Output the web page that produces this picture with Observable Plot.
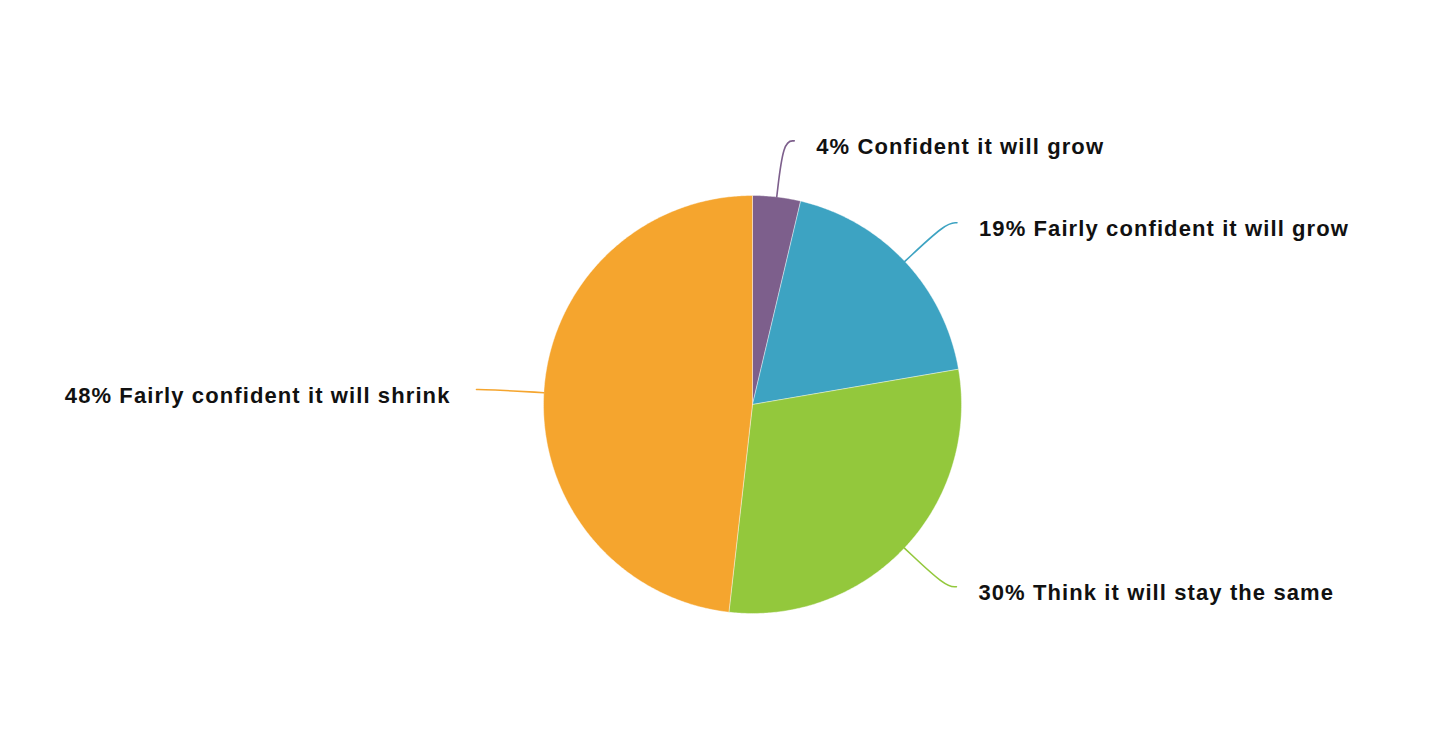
<!DOCTYPE html>
<html><head><meta charset="utf-8">
<script src="https://cdn.jsdelivr.net/npm/d3@7"></script>
<script src="https://cdn.jsdelivr.net/npm/@observablehq/plot@0.6"></script>
<style>body{margin:0;background:#fff}</style>
</head><body><div id="chart"></div>
<script>
const categories = ["Confident it will grow", "Fairly confident it will grow", "Think it will stay the same", "Fairly confident it will shrink"];
const values = [3.7, 18.6, 29.5, 48.2];
const colors = ["#7d5f8c", "#3da3c2", "#93c83c", "#f5a52e"];

// layout constants (pixels)
const W = 1436, H = 736, R = 209, CX = 752, CY = 404;
const u = p => p / R;

const total = d3.sum(values);
let acc = 0;
const slices = categories.map((c, i) => {
  const a0 = acc / total * 2 * Math.PI;
  acc += values[i];
  const a1 = acc / total * 2 * Math.PI;
  return {label: c, value: values[i], a0, a1, mid: (a0 + a1) / 2};
});

// slice polygons in unit-radius coordinates (angle clockwise from top)
const wedgePts = [];
for (const s of slices) {
  wedgePts.push({label: s.label, x: 0, y: 0});
  const n = Math.max(2, Math.ceil((s.a1 - s.a0) / (Math.PI / 360)));
  for (let k = 0; k <= n; k++) {
    const a = s.a0 + (s.a1 - s.a0) * k / n;
    wedgePts.push({label: s.label, x: Math.sin(a), y: Math.cos(a)});
  }
  wedgePts.push({label: s.label, x: 0, y: 0});
}

// leader lines
const leaderPts = [];
const labelPts = [];
for (const s of slices) {
  const sx = Math.sin(s.mid), cy = Math.cos(s.mid);
  const right = sx >= 0;
  const ex = 1.27 * sx, ey = 1.27 * cy;
  const endX = ex + (right ? u(11) : -u(11));
  leaderPts.push({label: s.label, x: sx, y: cy});
  leaderPts.push({label: s.label, x: ex, y: ey});
  leaderPts.push({label: s.label, x: endX, y: ey});
  labelPts.push({label: s.label, right, x: endX + (right ? u(22) : -u(26)), y: ey,
    text: `${Math.round(s.value)}% ${s.label}`});
}

const chart = Plot.plot({
  width: W, height: H, margin: 0,
  style: {fontFamily: "'Liberation Sans', Arial, Helvetica, sans-serif", letterSpacing: "1.1px", background: "#fff"},
  x: {domain: [u(-CX), u(W - CX)], axis: null},
  y: {domain: [u(-(H - CY)), u(CY)], axis: null},
  color: {domain: categories, range: colors},
  marks: [
    Plot.line(wedgePts, {x: "x", y: "y", z: "label", fill: "label", stroke: "#ffffff", strokeWidth: 0.5, strokeOpacity: 0.8, curve: "linear"}),
    Plot.line(leaderPts, {x: "x", y: "y", z: "label", stroke: "label", strokeWidth: 1.6, curve: "basis"}),
    Plot.text(labelPts.filter(d => d.right), {x: "x", y: "y", text: "text", textAnchor: "start", dy: 6, fontSize: 22, fontWeight: "bold", fill: "#111"}),
    Plot.text(labelPts.filter(d => !d.right), {x: "x", y: "y", text: "text", textAnchor: "end", dy: 6, fontSize: 22, fontWeight: "bold", fill: "#111"})
  ]
});
document.getElementById("chart").appendChild(chart);
</script>
</body></html>
